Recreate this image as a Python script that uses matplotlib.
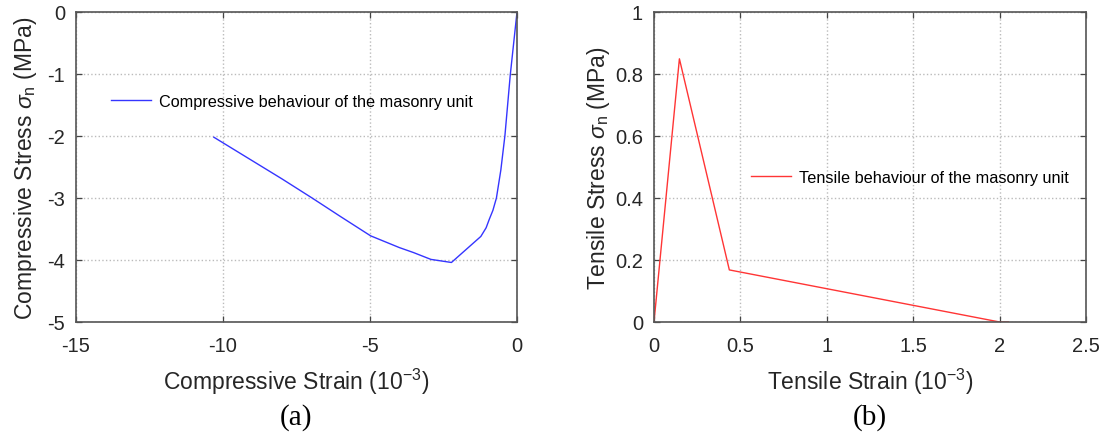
import matplotlib
matplotlib.use("Agg")
import matplotlib.pyplot as plt

plt.rcParams["font.family"] = ["Liberation Sans", "DejaVu Sans"]
plt.rcParams["mathtext.fontset"] = "custom"
plt.rcParams["mathtext.rm"] = "Liberation Sans"
plt.rcParams["mathtext.it"] = "Liberation Sans:italic"

# compressive curve (strain in 1e-3, stress in MPa)
comp_strain = [-10.31, -9.0, -8.0, -6.97, -6.0, -4.98, -4.0, -3.52, -2.93, -2.23,
               -1.23, -1.05, -0.94, -0.82, -0.70, -0.55, -0.41, -0.23, 0.0]
comp_stress = [-2.02, -2.40, -2.69, -3.00, -3.30, -3.61, -3.80, -3.88, -3.99, -4.04,
               -3.62, -3.48, -3.34, -3.20, -3.00, -2.55, -1.99, -1.02, 0.0]

# tensile curve
tens_strain = [0.0, 0.147, 0.436, 2.0, 2.05]
tens_stress = [0.0, 0.849, 0.168, 0.0, 0.0]

comp_xticks = [-15, -10, -5, 0]
comp_yticks = [0, -1, -2, -3, -4, -5]
tens_xticks = [0, 0.5, 1, 1.5, 2, 2.5]
tens_yticks = [0, 0.2, 0.4, 0.6, 0.8, 1]

fig = plt.figure(figsize=(11.05, 4.35), dpi=100)
W, H = 1105, 435
ax1 = fig.add_axes([76 / W, (H - 323) / H, 441 / W, 310 / H])
ax2 = fig.add_axes([654 / W, (H - 323) / H, 432 / W, 310 / H])

txt = "#262626"


def style(ax):
    for s in ax.spines.values():
        s.set_color("#555555")
        s.set_linewidth(1.2)
    ax.tick_params(direction="in", top=True, right=True, length=4,
                   width=0.9, color="#444444", labelsize=14.5, labelcolor=txt)
    ax.tick_params(axis="x", pad=10)
    ax.tick_params(axis="y", pad=8)
    ax.grid(True, linestyle=":", color="#bbbbbb", linewidth=1.0)
    ax.set_axisbelow(True)


ax1.plot(comp_strain, comp_stress, color="#3535ff", linewidth=1.0,
         label="Compressive behaviour of the masonry unit")
ax1.set_xlim(-15, 0)
ax1.set_ylim(-5, 0)
ax1.set_xticks(comp_xticks)
ax1.set_yticks(comp_yticks)
ax1.set_xticklabels([str(v) for v in comp_xticks])
ax1.set_yticklabels([str(v) for v in comp_yticks])
style(ax1)
ax1.set_xlabel("Compressive Strain (10$^{-3}$)", fontsize=16.5, color=txt, labelpad=8)
ax1.set_ylabel("Compressive Stress $\\it{\\sigma}_{\\rm n}$ (MPa)", fontsize=16.5, color=txt, labelpad=6)
ax1.legend(loc="upper left", bbox_to_anchor=(0.046, 0.784), frameon=False,
           fontsize=11.7, handlelength=2.46, handletextpad=0.5)

ax2.plot(tens_strain, tens_stress, color="#ff3535", linewidth=1.0,
         label="Tensile behaviour of the masonry unit")
ax2.set_xlim(0, 2.5)
ax2.set_ylim(0, 1)
ax2.set_xticks(tens_xticks)
ax2.set_yticks(tens_yticks)
ax2.set_xticklabels(["0", "0.5", "1", "1.5", "2", "2.5"])
ax2.set_yticklabels(["0", "0.2", "0.4", "0.6", "0.8", "1"])
style(ax2)
ax2.set_xlabel("Tensile Strain (10$^{-3}$)", fontsize=16.5, color=txt, labelpad=8)
ax2.set_ylabel("Tensile Stress $\\it{\\sigma}_{\\rm n}$ (MPa)", fontsize=16.5, color=txt, labelpad=2)
ax2.legend(loc="upper left", bbox_to_anchor=(0.191, 0.539), frameon=False,
           fontsize=11.7, handlelength=2.46, handletextpad=0.5)

fig.text(296 / W, 1 - 418 / H, "(a)", family="Liberation Serif", fontsize=21,
         ha="center", va="center", color="black")
fig.text(870 / W, 1 - 418 / H, "(b)", family="Liberation Serif", fontsize=21,
         ha="center", va="center", color="black")

fig.savefig("out.png", dpi=100)
